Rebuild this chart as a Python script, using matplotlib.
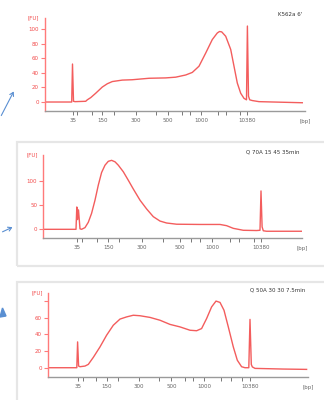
import matplotlib
matplotlib.use('Agg')
import matplotlib.pyplot as plt
from matplotlib.patches import Rectangle, FancyArrowPatch, Polygon

# Ladder sizes (bp) and which ones get a label
ladder_bp = [35, 50, 100, 150, 200, 300, 400, 500, 600, 700, 1000, 2000, 3000, 7000, 10380]
shown_bp = [35, 150, 300, 500, 1000, 10380]

# Panel 1: K562a 6'  (migration position, fluorescence FU)
ladder_pos1 = [28, 32.3, 47, 57.3, 69, 90.7, 110.7, 123, 136.7, 145, 156, 173.3, 181.3, 195, 202.4]
t1 = [0.7, 26.7, 27.5, 28.5, 30, 40.7, 42.3, 45.7, 50.7, 57.3, 62.3, 67.3, 77.3, 87.3, 104, 120.7, 130.7,
      140.7, 147.3, 154, 160.7, 167.3, 172.3, 174.5, 176.7, 180.7, 185.7, 189, 192.3, 195.7, 199, 201.5,
      202.4, 203.5, 204.7, 207.3, 214, 257.3]
fu1 = [0, 0, 52, 1, 0.5, 1, 3, 6, 12, 20.5, 25, 28, 30, 30.5, 32.5, 33, 34,
       37, 40.5, 49, 67, 85.5, 94.5, 96.5, 96, 90, 72, 49, 26, 12, 5, 3,
       104, 8, 3, 2, 0.5, -1]

# Panel 2: Q 70A 15 45 35min
ladder_pos2 = [33.4, 38.4, 53.4, 65, 76, 98.4, 120, 136.4, 148, 156.4, 169, 186.4, 196, 210.4, 217.7]
t2 = [0.7, 32.7, 33.5, 34.3, 35.2, 36.7, 38.3, 41.7, 45, 48.3, 51.7, 55, 58.3, 61.7, 65,
      68.3, 71.7, 75, 80, 85, 90, 96.7, 103.3, 110, 116.7, 123.3, 133.3, 156.7, 176.7, 183.3,
      190, 200, 213.3, 216.7, 217.7, 218.8, 220, 223.3, 258.3]
fu2 = [0, 0, 46, 20, 40, 1, 0, 3.5, 14.5, 33, 60, 91, 117, 132, 140,
       142, 139, 132, 118.5, 101, 83, 60, 42, 26, 17, 13, 10.5, 10, 10, 7.5,
       2, -2, -2.5, -2, 79, 5, -3, -4, -4]

# Panel 3: Q 50A 30 30 7.5min
ladder_pos3 = [30, 35, 47.7, 58.4, 70, 90.7, 110.7, 123, 136.7, 144.4, 156, 172.7, 182.7, 194, 201.7]
t3 = [0.7, 28.5, 29.3, 30.3, 31.7, 36.7, 40, 45, 51.7, 58.3, 65, 71.7, 78.3, 85, 91.7,
      101.7, 111.7, 121.7, 131.7, 141.7, 148.3, 153.3, 158.3, 163.3, 167.7, 171.7, 175.7, 180, 185, 189,
      193.3, 196.7, 200.5, 201.7, 203, 204, 206.7, 235, 258.3]
fu3 = [0, 0, 31, 2, 1.2, 2, 4, 12.4, 25, 39, 51, 58.4, 61, 63, 62.4,
       60.4, 57, 52, 49, 45, 44.4, 47, 59, 73, 80, 78.4, 69, 49, 25, 9,
       1.2, 0, 0, 58, 4, 1, -0.8, -1.6, -2]

W, H = 324, 400
fig = plt.figure(figsize=(3.24, 4.0), dpi=100)
fig.patch.set_facecolor('white')

red = '#f24b4b'
axis_red = '#ff7a7a'
gray = '#9a9a9a'
blue = '#5a8fd2'

# light frames behind panels 2 and 3
for (x0, y0, y1) in [(16.7, 141.7, 265.7), (16.7, 281.7, 420)]:
    fig.patches.append(Rectangle((x0 / W, 1 - y1 / H), 1.1, (y1 - y0) / H,
                                 transform=fig.transFigure, fill=False,
                                 edgecolor='#e6e6e6', lw=1.6, zorder=0))

# (left px, spine px, top px, width px, ylim, yticks, ytick labels, title)
panels = [
    (45, 111, 18, 260, (-12.3, 115), [0, 20, 40, 60, 80, 100], ['0', '20', '40', '60', '80', '100'],
     "K562a 6'", t1, fu1, ladder_pos1),
    (43.3, 238.3, 155, 259, (-18.5, 153), [0, 50, 100], ['0', '50', '100'],
     'Q 70A 15 45 35min', t2, fu2, ladder_pos2),
    (48.3, 377.3, 293, 260, (-11.5, 89.7), [0, 20, 40, 60, 80], ['0', '20', '40', '60', ''],
     'Q 50A 30 30 7.5min', t3, fu3, ladder_pos3),
]

for left, spine, top, width, ylim, yt, ytl, title, t, fu, lpos in panels:
    ax = fig.add_axes([left / W, 1 - spine / H, width / W, (spine - top) / H])
    ax.plot(t, fu, color=red, lw=1.0, alpha=0.9, solid_joinstyle='round')
    ax.set_xlim(0, width)
    ax.set_ylim(*ylim)

    ax.spines['top'].set_visible(False)
    ax.spines['right'].set_visible(False)
    ax.spines['left'].set_color(axis_red)
    ax.spines['bottom'].set_color(gray)
    ax.spines['left'].set_linewidth(1.0)
    ax.spines['bottom'].set_linewidth(1.0)

    ax.set_yticks(yt)
    ax.set_yticklabels(ytl)
    ax.tick_params(axis='y', colors=axis_red, labelcolor=red, labelsize=4,
                   length=3, width=0.8, pad=1.5)

    ax.set_xticks(lpos)
    ax.set_xticklabels([str(b) if b in shown_bp else '' for b in ladder_bp])
    ax.tick_params(axis='x', colors='#777777', labelcolor='#666666', labelsize=4,
                   length=3, width=0.7, pad=2)

    ax.annotate('[FU]', xy=(0, 1), xycoords='axes fraction', xytext=(-4, 0),
                textcoords='offset points', ha='right', va='center', fontsize=4, color=red)
    ax.annotate('[bp]', xy=(1, 0), xycoords='axes fraction', xytext=(0, -7.5),
                textcoords='offset points', ha='center', va='center', fontsize=4, color='#666666')
    ax.text(0.99, 1.04, title, transform=ax.transAxes, ha='right', va='center',
            fontsize=4, color='#333333')

# blue arrows at the left edge
fig.patches.append(FancyArrowPatch((0.0, 1 - 118 / H), (15 / W, 1 - 89 / H),
                                   transform=fig.transFigure, arrowstyle='->,head_length=2.5,head_width=1.5',
                                   color=blue, lw=0.8))
fig.patches.append(FancyArrowPatch((0.0, 1 - 233 / H), (15 / W, 1 - 226 / H),
                                   transform=fig.transFigure, arrowstyle='->,head_length=2.5,head_width=1.5',
                                   color=blue, lw=0.8))
fig.patches.append(Polygon([(0.0, 1 - 317 / H), (2.5 / W, 1 - 308 / H), (6 / W, 1 - 316 / H)],
                           closed=True, transform=fig.transFigure, color=blue))

plt.savefig('out.png', dpi=100)
